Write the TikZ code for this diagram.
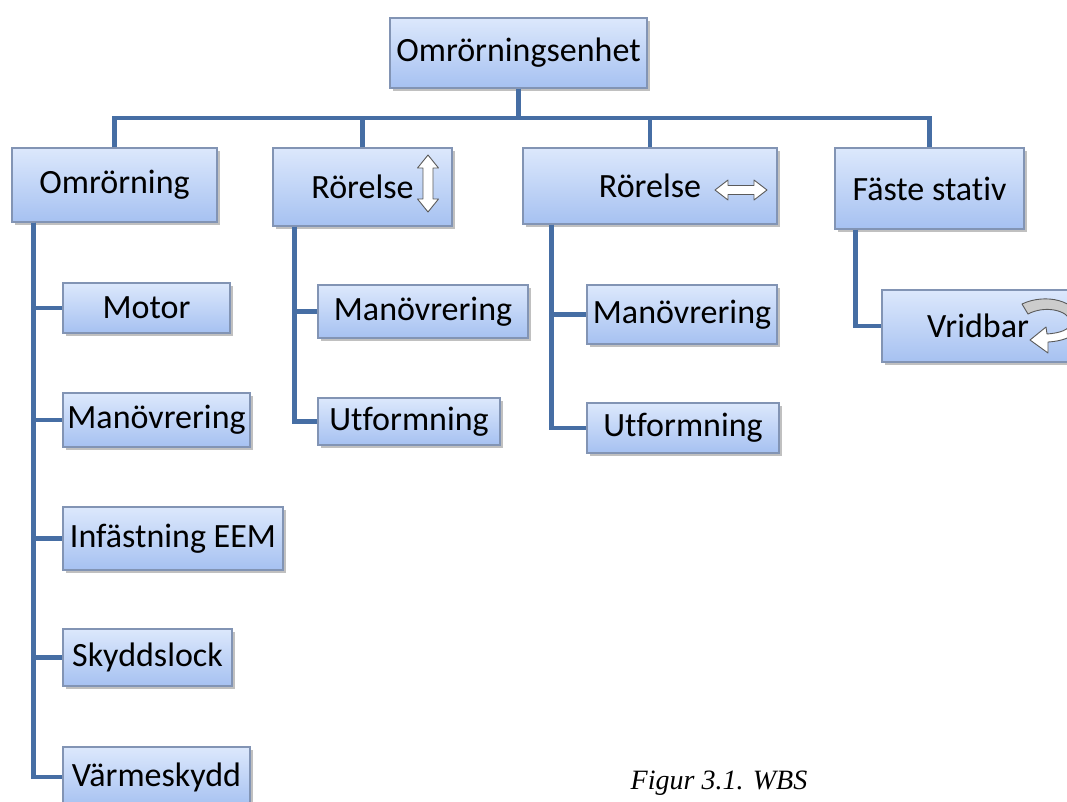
\documentclass[tikz,border=0pt]{standalone}
\usepackage{fontspec}
\setmainfont[Ligatures=NoCommon]{Carlito}
\newfontfamily\capfont{Liberation Serif}
\usetikzlibrary{shadows}
\definecolor{boxtop}{RGB}{220,232,252}
\definecolor{boxbot}{RGB}{166,193,241}
\definecolor{boxline}{RGB}{130,148,180}
\definecolor{linkc}{RGB}{70,110,164}
\definecolor{arrline}{RGB}{90,90,90}
\tikzset{
  box/.style={draw=boxline, line width=1.2pt, top color=boxtop, bottom color=boxbot,
    inner sep=0pt, align=center, font=\fontsize{34}{38}\selectfont,
    drop shadow={shadow xshift=2.5pt, shadow yshift=-2.5pt, opacity=0.35, fill=black!70}},
  link/.style={draw=linkc, line width=4.5pt},
  sym/.style={fill=white, draw=arrline, line width=0.9pt, line join=round}
}
\begin{document}
\begin{tikzpicture}[x=1pt,y=-1pt]
\fill[white] (0,0) rectangle (1067,801);
\useasboundingbox (0,0) rectangle (1067,801);

% nodes
\node[box, minimum width=257pt, minimum height=70pt] (top) at (518.5,53) {Omrörningsenhet};
\node[box, minimum width=205pt, minimum height=74pt] (l1) at (114.5,185) {Omrörning};
\node[box, minimum width=179pt, minimum height=78pt] (l2) at (362.5,187) {Rörelse};
\node[box, minimum width=254pt, minimum height=76pt] (l3) at (650,186) {Rörelse};
\node[box, minimum width=189pt, minimum height=81pt] (l4) at (929.5,188.5) {Fäste stativ};

\node[box, minimum width=167pt, minimum height=50pt] (a1) at (146.5,308) {Motor};
\node[box, minimum width=187pt, minimum height=54pt] (a2) at (156.5,420) {Manövrering};
\node[box, minimum width=220pt, minimum height=63pt] (a3) at (173,538.5) {Infästning EEM};
\node[box, minimum width=169pt, minimum height=57pt] (a4) at (147.5,657.5) {Skyddslock};
\node[box, minimum width=187pt, minimum height=60pt] (a5) at (156.5,777) {Värmeskydd};

\node[box, minimum width=210pt, minimum height=53pt] (b1) at (423,311.5) {Manövrering};
\node[box, minimum width=182pt, minimum height=47pt] (b2) at (409,421.5) {Utformning};

\node[box, minimum width=190pt, minimum height=59pt] (c1) at (682,314.5) {Manövrering};
\node[box, minimum width=192pt, minimum height=50pt] (c2) at (683,428) {Utformning};

\node[box, minimum width=192pt, minimum height=72pt] (d1) at (978,326) {Vridbar};

% connectors
\coordinate (bus) at (520,118);
\draw[link] (top.south) -- (top.south |- bus);
\draw[link] (l1.north) -- (l1.north |- bus) -- (l4.north |- bus) -- (l4.north);
\draw[link] (l2.north) -- (l2.north |- bus);
\draw[link] (l3.north) -- (l3.north |- bus);

\foreach \n in {a1,a2,a3,a4,a5}{\draw[link] ([xshift=22pt]l1.south west) |- (\n.west);}
\foreach \n in {b1,b2}{\draw[link] ([xshift=22pt]l2.south west) |- (\n.west);}
\foreach \n in {c1,c2}{\draw[link] ([xshift=29pt]l3.south west) |- (\n.west);}
\draw[link] ([xshift=21pt]l4.south west) |- (d1.west);

% symbols
\filldraw[sym] (428,155) -- (438.5,168) -- (433,168) -- (433,199) -- (438.5,199) -- (428,212)
  -- (417.5,199) -- (423,199) -- (423,168) -- (417.5,168) -- cycle;
\filldraw[sym] (715,190) -- (728,180) -- (728,185.5) -- (754,185.5) -- (754,180) -- (767,190)
  -- (754,200) -- (754,194.5) -- (728,194.5) -- (728,200) -- cycle;

\filldraw[sym, fill=gray!40] (1022,304) .. controls (1045,293) and (1078,300) .. (1080,322)
  -- (1071,322) .. controls (1068,310) and (1045,305) .. (1028,314) -- cycle;
\filldraw[sym] (1080,322) .. controls (1080,335) and (1065,341) .. (1048,342)
  -- (1048,353) -- (1030,340) -- (1046,327) -- (1047,334)
  .. controls (1060,333) and (1070,330) .. (1071,322) -- cycle;

% caption
\node[font=\capfont\itshape\fontsize{28}{31}\selectfont, inner sep=0pt] (cap) at (719,783) {Figur 3.1. WBS};
\end{tikzpicture}
\end{document}
